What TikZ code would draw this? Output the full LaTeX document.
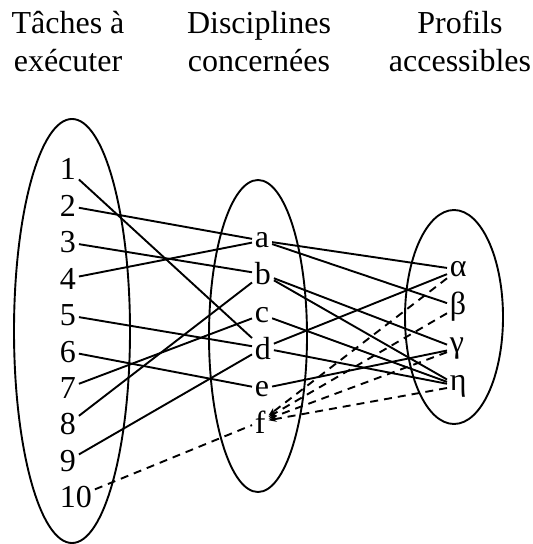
\documentclass[tikz,border=0pt]{standalone}
\usepackage{fontspec}
\setmainfont{Liberation Serif}
\usetikzlibrary{arrows.meta}

\begin{document}
\begin{tikzpicture}[x=0.5pt,y=-0.5pt,>={Stealth[length=4pt,width=3pt]},line width=0.95pt,every node/.style={inner sep=1pt,font=\fontsize{16}{19}\selectfont},lbl/.style={anchor=base west},ttl/.style={align=center},dsh/.style={dash pattern=on 4pt off 3pt}]
\useasboundingbox (0,0) rectangle (532,544);
\node[ttl] (t1) at (68,45) {\strut Tâches à\\\strut exécuter};
\node[ttl] (t2) at (259,45) {\strut Disciplines\\\strut concernées};
\node[ttl] (t3) at (460,45) {\strut Profils\\\strut accessibles};
\draw (72,331) ellipse [x radius=58, y radius=212];
\draw (258,336) ellipse [x radius=49, y radius=156];
\draw (454,317) ellipse [x radius=49, y radius=107];
\foreach \i in {1,...,10} \node[lbl] (n\i) at (57,{180+36.4*(\i-1)}) {\i};
\foreach \l [count=\k from 0] in {a,b,c,d,e,f} \node[lbl] (\l) at (252,{248+37*\k}) {\l};
\foreach \g/\s [count=\k from 0] in {al/α,be/β,ga/γ,et/η} \node[lbl] (\g) at (447,{277+37.7*\k}) {\s};
\foreach \x/\y in {n1/d,n2/a,n3/b,n4/a,n5/d,n6/e,n7/c,n8/b,n9/d,a/al,a/be,b/ga,b/et,c/et,d/al,d/et,e/ga} \draw (\x) -- (\y);
\draw[dsh] (n10) -- (f);
\foreach \y in {al,be,ga,et} \draw[dsh,->] (\y) -- (f);
\end{tikzpicture}
\end{document}
